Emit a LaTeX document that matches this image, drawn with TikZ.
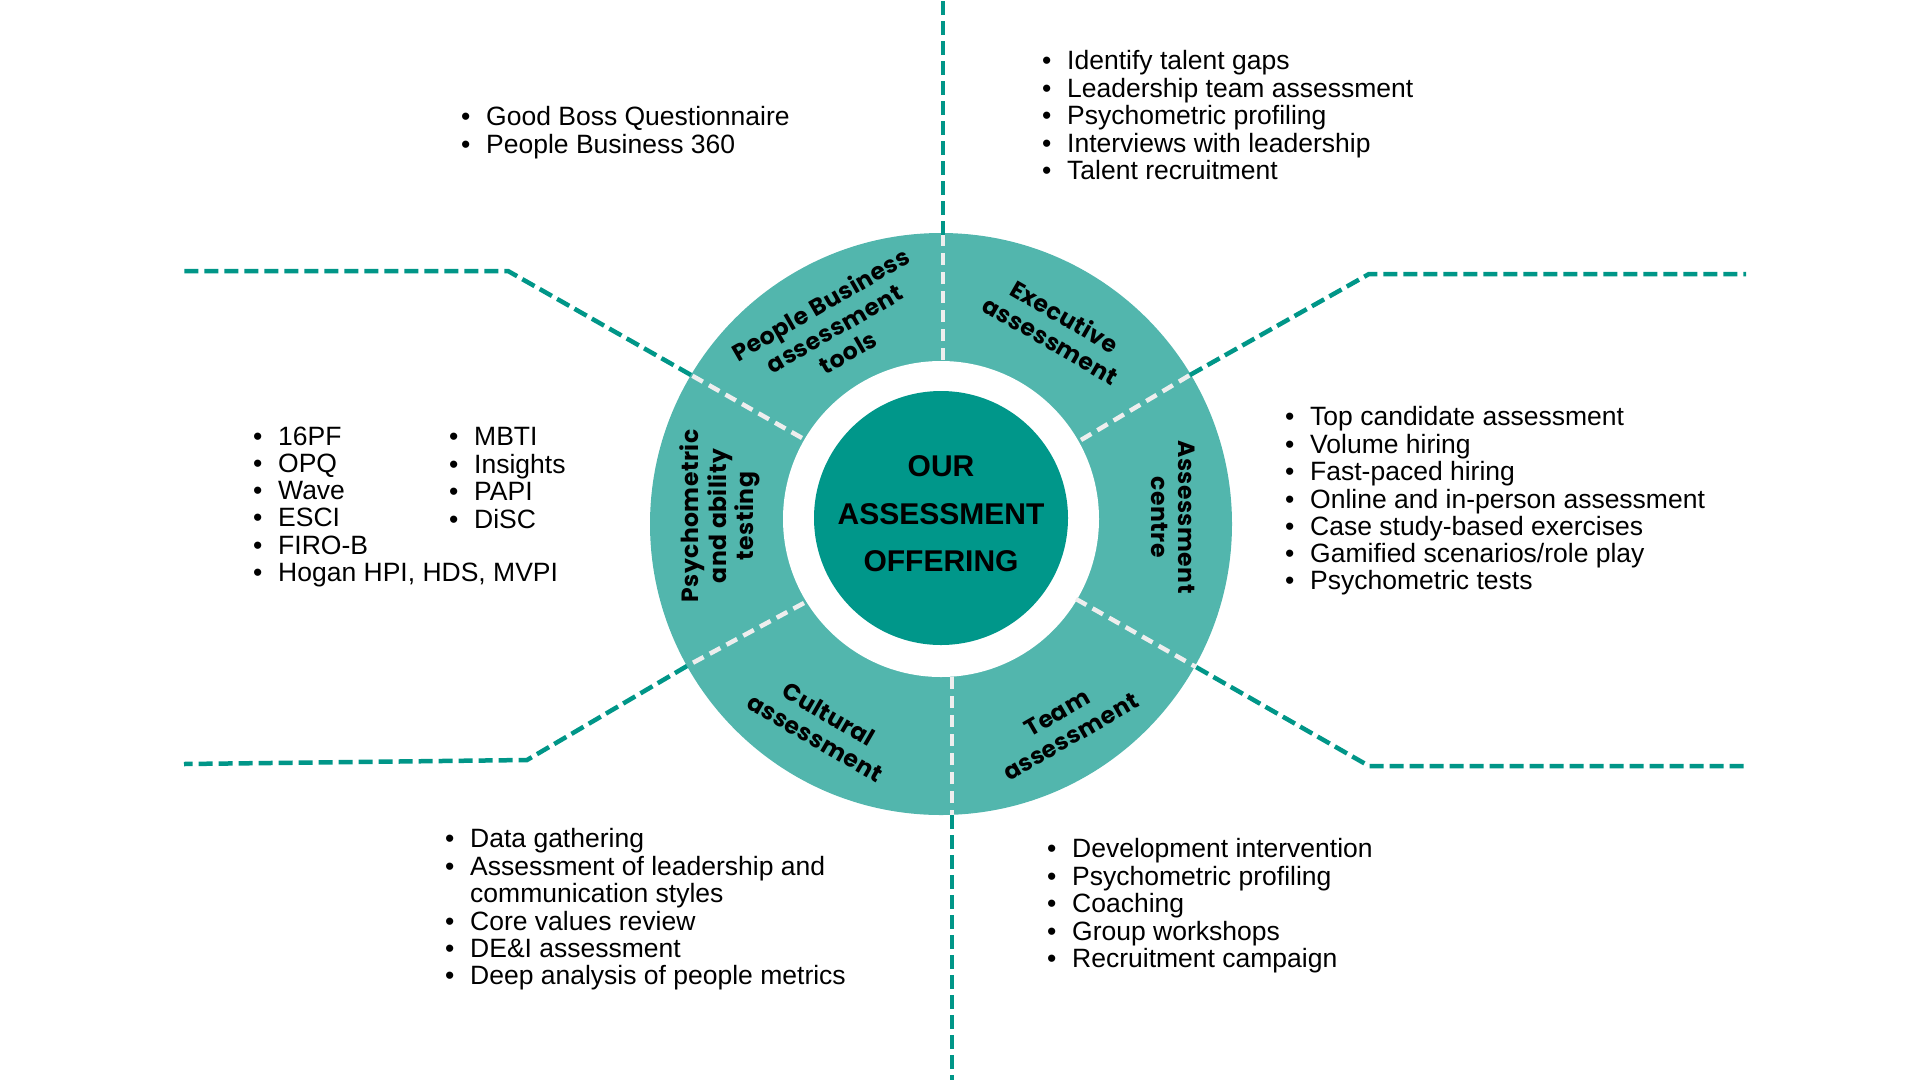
\documentclass[tikz,border=0pt]{standalone}
\usepackage{fontspec}
\setmainfont{Liberation Sans}
\newfontfamily\segfont{Poppins}[LetterSpace=2]
\usetikzlibrary{calc}

\definecolor{ringteal}{HTML}{52B6AD}
\definecolor{hubteal}{HTML}{00978A}
\definecolor{leadteal}{HTML}{009688}
\definecolor{gapwhite}{HTML}{EEEEEE}

\newcommand{\itm}{\makebox[25pt][l]{\textbullet}}

\tikzset{
  leader/.style={leadteal, line width=4.5pt, dash pattern=on 14pt off 6pt},
  divider/.style={gapwhite, line width=4.5pt, dash pattern=on 12pt off 7pt},
  seglabel/.style={font=\segfont\bfseries\fontsize{23.5}{27.5}\selectfont, align=center, inner sep=0pt},
  bullets/.style={anchor=north west, inner sep=0pt, align=left, font=\fontsize{26.5}{27.2}\selectfont},
}

\begin{document}
\begin{tikzpicture}[x=1pt, y=-1pt]
            \useasboundingbox (0,0) rectangle (1920,1080);
            \coordinate (c) at (941,524);
            \coordinate (t-in) at (943,360);
            \coordinate (t-out) at (943,235);
            \coordinate (t-end) at (943,0);
            \coordinate (b-in) at (952,677);
            \coordinate (b-out) at (952,815);
            \coordinate (b-end) at (952,1080);
            \coordinate (ul-in) at (802,438);
            \coordinate (ul-out) at (691,375);
            \coordinate (ul-bend) at (508,271);
            \coordinate (ul-end) at (184,271);
            \coordinate (ur-in) at (1081,440);
            \coordinate (ur-out) at (1190,375);
            \coordinate (ur-bend) at (1369,274);
            \coordinate (ur-end) at (1746,274);
            \coordinate (ll-in) at (804,603);
            \coordinate (ll-out) at (687,666);
            \coordinate (ll-bend) at (527,760);
            \coordinate (ll-end) at (184,764);
            \coordinate (lr-in) at (1076,599);
            \coordinate (lr-out) at (1196,667);
            \coordinate (lr-bend) at (1369,766);
            \coordinate (lr-end) at (1746,766);
            % ring and hub
            \fill[ringteal] (c) circle[radius=291];
            \fill[white] (941,519) circle[radius=158];
            \fill[hubteal] (941,518) circle[radius=127];
            \node[align=center, inner sep=0pt, font=\bfseries\fontsize{30}{47.5}\selectfont] (hub) at (941,514) {OUR\\ASSESSMENT\\OFFERING};
            \draw[leader] (t-out) -- (t-end);
            \draw[leader] (b-out) -- (b-end);
            \draw[leader] (ul-out) -- (ul-bend) -- (ul-end);
            \draw[leader] (ur-out) -- (ur-bend) -- (ur-end);
            \draw[leader] (ll-out) -- (ll-bend) -- (ll-end);
            \draw[leader] (lr-out) -- (lr-bend) -- (lr-end);
            \draw[divider] (t-in) -- (t-out);
            \draw[divider] (b-in) -- (b-out);
            \draw[divider] (ul-in) -- (ul-out);
            \draw[divider] (ur-in) -- (ur-out);
            \draw[divider] (ll-in) -- (ll-out);
            \draw[divider] (lr-in) -- (lr-out);
            \node[seglabel, rotate=30] (pb) at (834,328) {People Business\\assessment\\tools};
            \node[seglabel, rotate=-30] (exe) at (1058,328) {Executive\\assessment};
            \node[seglabel, rotate=-90] (ac) at (1173,517) {Assessment\\centre};
            \node[seglabel, rotate=30] (team) at (1064,725) {Team\\assessment};
            \node[seglabel, rotate=-30] (cult) at (822,726) {Cultural\\assessment};
            \node[seglabel, rotate=90] (psy) at (720,516) {Psychometric\\and ability\\testing};
            % lists
            \node[bullets] (pb-list) at (461,106) {\strut\itm Good Boss Questionnaire\\\itm People Business 360};
            \node[bullets] (exe-list) at (1042,50) {\strut\itm Identify talent gaps\\\itm Leadership team assessment\\\itm Psychometric profiling\\\itm Interviews with leadership\\\itm Talent recruitment};
            \node[bullets] (psy-list) at (253,426) {\strut\itm 16PF\\\itm OPQ\\\itm Wave\\\itm ESCI\\\itm FIRO-B\\\itm Hogan HPI, HDS, MVPI};
            \node[bullets] (psy-list2) at (449,426) {\strut\itm MBTI\\\itm Insights\\\itm PAPI\\\itm DiSC};
            \node[bullets] (ac-list) at (1285,406) {\strut\itm Top candidate assessment\\\itm Volume hiring\\\itm Fast-paced hiring\\\itm Online and in-person assessment\\\itm Case study-based exercises\\\itm Gamified scenarios/role play\\\itm Psychometric tests};
            \node[bullets] (cult-list) at (445,828) {\strut\itm Data gathering\\\itm Assessment of leadership and\\\hspace*{25pt}communication styles\\\itm Core values review\\\itm DE\&I assessment\\\itm Deep analysis of people metrics};
            \node[bullets] (team-list) at (1047,838) {\strut\itm Development intervention\\\itm Psychometric profiling\\\itm Coaching\\\itm Group workshops\\\itm Recruitment campaign};
        \end{tikzpicture}
\end{document}
